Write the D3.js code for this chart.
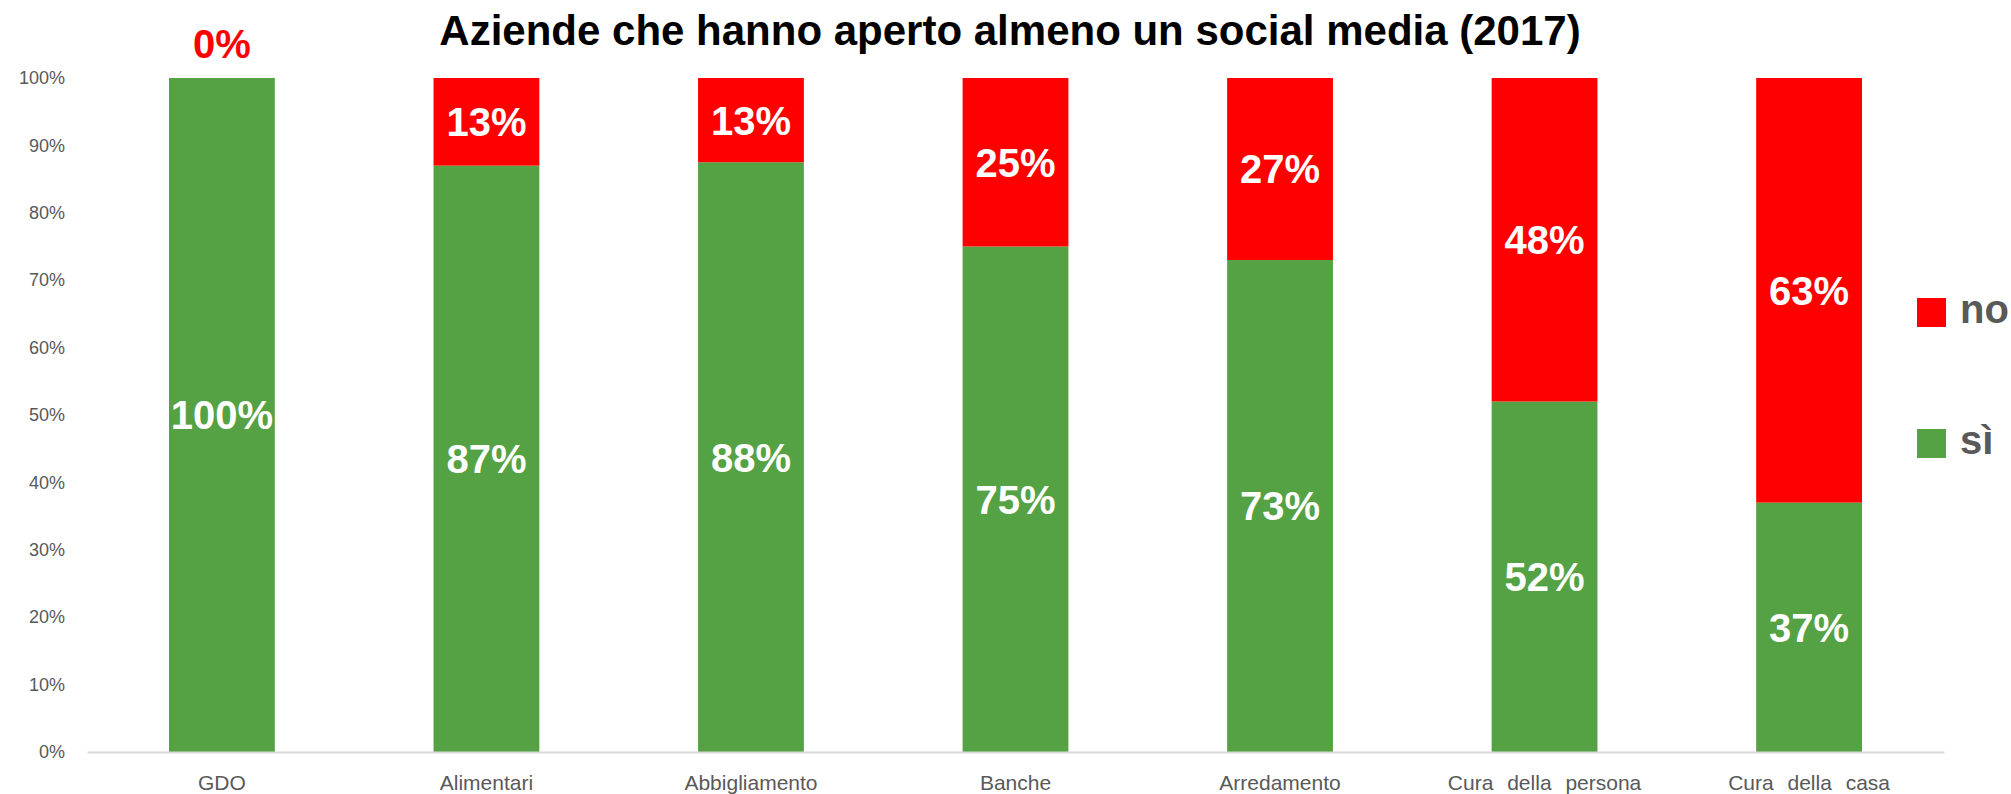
<!DOCTYPE html>
<html>
<head>
<meta charset="utf-8">
<script src="https://cdn.jsdelivr.net/npm/d3@7"></script>
<style>
  body { margin: 0; background: #fff; }
  text { font-family: "Liberation Sans", Arial, sans-serif; }
</style>
</head>
<body>
<div id="chart-area"></div>
<script>
// Dati
const categories = ["GDO", "Alimentari", "Abbigliamento", "Banche", "Arredamento", "Cura della persona", "Cura della casa"];
const si = [100, 87, 87.5, 75, 73, 52, 37];
const no = [0, 13, 12.5, 25, 27, 48, 63];
const keys = ["si", "no"];
const keyLabels = { si: "sì", no: "no" };
const yTicks = [0, 10, 20, 30, 40, 50, 60, 70, 80, 90, 100];

// Lienzo
const W = 2011, H = 794;
const svg = d3.select("#chart-area").append("svg")
    .attr("width", W)
    .attr("height", H);

const color = d3.scaleOrdinal().domain(keys).range(["#55A244", "#FF0000"]);

// Escalas
const x = d3.scaleBand()
    .domain(categories)
    .range([87, 1944])
    .paddingInner(0.6)
    .paddingOuter(0.31);

const y = d3.scaleLinear()
    .domain([0, 100])
    .range([752, 78]);

const fmt = v => d3.format(".0f")(v) + "%";

// Tabla para el stack
const table = categories.map((c, i) => ({ cat: c, si: si[i], no: no[i] }));
const series = d3.stack().keys(keys)(table);

// Titulo
svg.append("text")
    .attr("x", 1010)
    .attr("y", 45)
    .attr("text-anchor", "middle")
    .style("font-size", "42px")
    .style("font-weight", "bold")
    .attr("fill", "#000")
    .text("Aziende che hanno aperto almeno un social media (2017)");

// Eje Y (solo etiquetas)
const yAxis = svg.append("g")
    .attr("transform", "translate(65,0)")
    .call(d3.axisLeft(y).tickValues(yTicks).tickFormat(d => d + "%").tickSize(0).tickPadding(0));
yAxis.select(".domain").remove();
yAxis.selectAll("text")
    .style("font-size", "18px")
    .attr("fill", "#595959");

// Barras apiladas
const layer = svg.selectAll(".serie")
    .data(series)
    .enter().append("g")
    .attr("class", "serie")
    .attr("fill", d => color(d.key));

layer.selectAll("rect")
    .data(d => d)
    .enter().append("rect")
    .attr("x", d => x(d.data.cat))
    .attr("y", d => y(d[1]))
    .attr("width", x.bandwidth())
    .attr("height", d => y(d[0]) - y(d[1]));

// Eje X
const xAxis = svg.append("g")
    .attr("transform", "translate(0,752)")
    .call(d3.axisBottom(x).tickSize(0).tickPadding(23));
xAxis.select(".domain")
    .attr("stroke", "#d9d9d9")
    .attr("stroke-width", 2);
xAxis.selectAll("text")
    .style("font-size", "21px")
    .style("word-spacing", "8px")
    .attr("fill", "#595959");

// Etiquetas de datos
series.forEach(s => {
    svg.append("g").selectAll("text")
        .data(s)
        .enter().append("text")
        .attr("x", d => x(d.data.cat) + x.bandwidth() / 2)
        .attr("y", d => (d[1] - d[0]) === 0 ? y(d[1]) - 34 : (y(d[0]) + y(d[1])) / 2)
        .attr("dy", "0.36em")
        .attr("text-anchor", "middle")
        .style("font-size", "40px")
        .style("font-weight", "bold")
        .attr("fill", d => (d[1] - d[0]) === 0 ? color(s.key) : "#fff")
        .text(d => fmt(d[1] - d[0]));
});

// Leyenda
const legendKeys = keys.slice().reverse();
const legend = svg.selectAll(".legend")
    .data(legendKeys)
    .enter().append("g")
    .attr("class", "legend")
    .attr("transform", (d, i) => `translate(1917, ${298 + i * 131})`);

legend.append("rect")
    .attr("width", 29)
    .attr("height", 29)
    .attr("fill", d => color(d));

legend.append("text")
    .attr("x", 43)
    .attr("y", 25)
    .style("font-size", "40px")
    .style("font-weight", "bold")
    .attr("fill", "#595959")
    .text(d => keyLabels[d]);
</script>
</body>
</html>
